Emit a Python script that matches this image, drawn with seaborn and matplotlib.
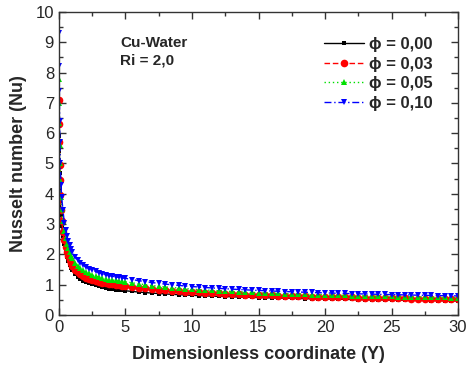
import matplotlib
matplotlib.use("Agg")
import matplotlib.pyplot as plt
import seaborn as sns
from matplotlib.ticker import MultipleLocator

# dimensionless coordinate Y (shared by all curves)
y_coord = [0.01, 0.02, 0.03, 0.05, 0.07, 0.1, 0.15, 0.2, 0.3, 0.4, 0.5, 0.6, 0.7, 0.8, 0.9, 1.0,
           1.2, 1.4, 1.6, 1.8, 2.0, 2.25, 2.5, 2.75, 3.0, 3.25, 3.5, 3.75, 4.0, 4.25, 4.5, 4.75,
           5.0, 5.5, 6.0, 6.5, 7.0, 7.5, 8.0, 8.5, 9.0, 9.5, 10.0, 10.5, 11.0, 11.5, 12.0, 12.5,
           13.0, 13.5, 14.0, 14.5, 15.0, 15.5, 16.0, 16.5, 17.0, 17.5, 18.0, 18.5, 19.0, 19.5,
           20.0, 20.5, 21.0, 21.5, 22.0, 22.5, 23.0, 23.5, 24.0, 24.5, 25.0, 25.5, 26.0, 26.5,
           27.0, 27.5, 28.0, 28.5, 29.0, 29.5, 30.0]

# Nusselt number
nu_000 = [6.4, 5.9, 5.4, 4.7, 4.2, 3.75, 3.3, 2.95, 2.6, 2.35, 2.1, 1.92, 1.78, 1.66, 1.56, 1.48,
          1.35, 1.26, 1.19, 1.13, 1.09, 1.05, 1.01, 0.98, 0.95, 0.92, 0.90, 0.87, 0.85, 0.84, 0.82, 0.81,
          0.800, 0.777, 0.757, 0.739, 0.723, 0.708, 0.695, 0.682, 0.671, 0.660, 0.650, 0.640, 0.631,
          0.623, 0.615, 0.608, 0.601, 0.594, 0.587, 0.581, 0.575, 0.570, 0.564, 0.559, 0.554, 0.549,
          0.545, 0.540, 0.536, 0.532, 0.528, 0.524, 0.520, 0.516, 0.513, 0.510, 0.506, 0.503, 0.500,
          0.497, 0.494, 0.491, 0.488, 0.485, 0.482, 0.480, 0.477, 0.475, 0.472, 0.470, 0.467]
nu_003 = [7.1, 6.3, 5.7, 4.95, 4.45, 3.95, 3.45, 3.1, 2.75, 2.48, 2.26, 2.08, 1.94, 1.82, 1.72, 1.63,
          1.50, 1.41, 1.34, 1.28, 1.23, 1.19, 1.15, 1.12, 1.10, 1.07, 1.05, 1.03, 1.01, 0.99, 0.98, 0.97,
          0.960, 0.929, 0.902, 0.878, 0.856, 0.836, 0.817, 0.801, 0.785, 0.771, 0.757, 0.745, 0.733,
          0.722, 0.712, 0.702, 0.692, 0.684, 0.675, 0.667, 0.659, 0.652, 0.645, 0.638, 0.632, 0.625,
          0.619, 0.614, 0.608, 0.603, 0.598, 0.593, 0.588, 0.583, 0.578, 0.574, 0.570, 0.566, 0.561,
          0.557, 0.554, 0.550, 0.546, 0.543, 0.539, 0.536, 0.533, 0.529, 0.526, 0.523, 0.520]
nu_005 = [7.8, 7.0, 6.35, 5.6, 5.0, 4.45, 3.9, 3.5, 3.1, 2.78, 2.54, 2.35, 2.2, 2.07, 1.96, 1.87,
          1.72, 1.62, 1.54, 1.47, 1.42, 1.37, 1.32, 1.28, 1.25, 1.22, 1.20, 1.17, 1.15, 1.14, 1.12, 1.11,
          1.100, 1.062, 1.029, 1.000, 0.973, 0.949, 0.927, 0.906, 0.888, 0.870, 0.854, 0.839, 0.825,
          0.812, 0.799, 0.787, 0.776, 0.766, 0.755, 0.746, 0.737, 0.728, 0.719, 0.711, 0.704, 0.696,
          0.689, 0.682, 0.676, 0.669, 0.663, 0.657, 0.652, 0.646, 0.641, 0.635, 0.630, 0.625, 0.621,
          0.616, 0.611, 0.607, 0.603, 0.598, 0.594, 0.590, 0.587, 0.583, 0.579, 0.576, 0.572]
nu_010 = [9.3, 8.2, 7.4, 6.4, 5.7, 5.0, 4.3, 3.9, 3.45, 3.05, 2.8, 2.6, 2.44, 2.3, 2.18, 2.08,
          1.93, 1.82, 1.73, 1.65, 1.59, 1.53, 1.48, 1.44, 1.40, 1.36, 1.33, 1.30, 1.28, 1.26, 1.24, 1.22,
          1.210, 1.169, 1.132, 1.100, 1.070, 1.044, 1.019, 0.997, 0.976, 0.957, 0.940, 0.923, 0.907,
          0.893, 0.879, 0.866, 0.854, 0.842, 0.831, 0.820, 0.810, 0.801, 0.791, 0.783, 0.774, 0.766,
          0.758, 0.751, 0.743, 0.736, 0.730, 0.723, 0.717, 0.711, 0.705, 0.699, 0.693, 0.688, 0.683,
          0.677, 0.673, 0.668, 0.663, 0.658, 0.654, 0.650, 0.645, 0.641, 0.637, 0.633, 0.629]

labels = ["\u03d5 = 0,00", "\u03d5 = 0,03", "\u03d5 = 0,05", "\u03d5 = 0,10"]
series = [nu_000, nu_003, nu_005, nu_010]
colors = ["black", "#ff0000", "#00e000", "#0000ff"]
markers = ["s", "o", "^", "v"]
msizes = [3.5, 5.5, 5, 5]
dashes = [(None, None), (4, 2), (1, 2), (5, 2, 1, 2)]

sns.set_style("ticks")
plt.rcParams["font.family"] = ["Liberation Sans", "DejaVu Sans"]
plt.rcParams["xtick.direction"] = "in"
plt.rcParams["ytick.direction"] = "in"

fig = plt.figure(figsize=(4.7, 3.73), dpi=100)
ax = fig.add_axes([0.1255, 0.1555, 0.849, 0.8125])

for nu, lab, c, m, ms, d in zip(series, labels, colors, markers, msizes, dashes):
    sns.lineplot(x=y_coord, y=nu, ax=ax, color=c, label=lab, marker=m,
                 markersize=ms, markeredgewidth=0, linewidth=1)
    if d[0] is not None:
        ax.lines[-1].set_dashes(d)

ax.set_xlim(0, 30)
ax.set_ylim(0, 10)
ax.xaxis.set_major_locator(MultipleLocator(5))
ax.xaxis.set_minor_locator(MultipleLocator(2.5))
ax.yaxis.set_major_locator(MultipleLocator(1))
ax.yaxis.set_minor_locator(MultipleLocator(0.5))
ax.tick_params(which="both", top=True, right=True, labelsize=12, width=1, color="#333333")
ax.tick_params(which="major", length=5)
ax.tick_params(which="minor", length=3)
for s in ax.spines.values():
    s.set_linewidth(1)
    s.set_color("#333333")

ax.set_xlabel("Dimensionless coordinate (Y)", fontsize=13, fontweight="bold", labelpad=8)
ax.set_ylabel("Nusselt number (Nu)", fontsize=13, fontweight="bold", labelpad=6)

ax.text(4.6, 9.2, "Cu-Water\nRi = 2,0", fontsize=11, fontweight="bold",
        va="top", ha="left", linespacing=1.3)

ax.legend(loc="upper right", frameon=False, numpoints=1, handlelength=2.4,
          handletextpad=0.3, labelspacing=0.28, borderaxespad=1.1,
          prop={"weight": "bold", "size": 12})

fig.savefig("out.png", dpi=100)
